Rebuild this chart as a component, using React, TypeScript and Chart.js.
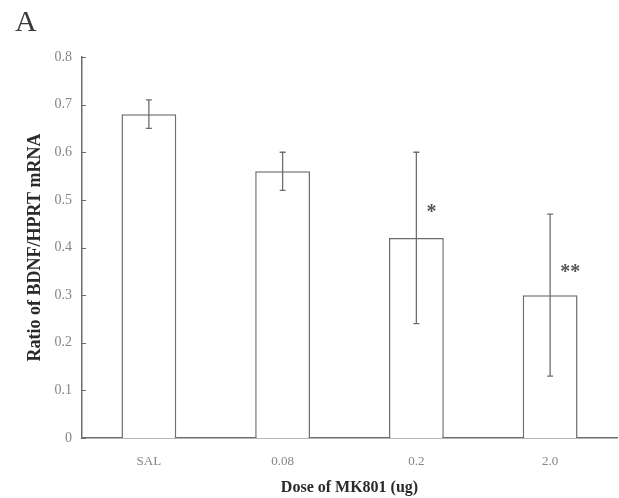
import { useEffect, useRef } from 'react';
import { Chart, registerables } from 'chart.js';

Chart.register(...registerables);

const categories = ['SAL', '0.08', '0.2', '2.0'];
const means = [0.68, 0.56, 0.42, 0.30];
const errLow = [0.65, 0.52, 0.24, 0.13];
const errHigh = [0.71, 0.60, 0.60, 0.47];
const sigMarks = ['', '', '*', '**'];
const sigLevel = [null, null, 0.483, 0.357];
const yTicks = [0, 0.1, 0.2, 0.3, 0.4, 0.5, 0.6, 0.7, 0.8];
const panelLabel = 'A';
const xTitle = 'Dose of MK801 (ug)';
const yTitle = 'Ratio of BDNF/HPRT mRNA';

const SERIF = '"Liberation Serif", "DejaVu Serif", serif';
const LINE = '#6e6e6e';

const extrasPlugin = {
  id: 'extras',
  afterDatasetsDraw(chart: any) {
    const { ctx } = chart;
    const meta = chart.getDatasetMeta(0);
    const ys = chart.scales.y;
    ctx.save();
    ctx.strokeStyle = LINE;
    ctx.lineWidth = 1.3;
    meta.data.forEach((bar: any, i: number) => {
      const x = bar.x;
      const yl = ys.getPixelForValue(errLow[i]);
      const yh = ys.getPixelForValue(errHigh[i]);
      ctx.beginPath();
      ctx.moveTo(x, yl);
      ctx.lineTo(x, yh);
      ctx.moveTo(x - 3, yl);
      ctx.lineTo(x + 3, yl);
      ctx.moveTo(x - 3, yh);
      ctx.lineTo(x + 3, yh);
      ctx.stroke();
      const mark = sigMarks[i];
      const lvl = sigLevel[i];
      if (mark && lvl !== null) {
        ctx.font = `bold 20px ${SERIF}`;
        ctx.fillStyle = '#555';
        ctx.textAlign = 'left';
        ctx.textBaseline = 'alphabetic';
        const m = ctx.measureText(mark);
        const cy = ys.getPixelForValue(lvl);
        const base = cy + (m.actualBoundingBoxAscent - m.actualBoundingBoxDescent) / 2;
        ctx.fillText(mark, x + 10, base);
      }
    });
    ctx.restore();
  },
  afterDraw(chart: any) {
    const { ctx } = chart;
    const ys = chart.scales.y;
    const left = chart.chartArea.left;
    ctx.save();
    ctx.strokeStyle = LINE;
    ctx.lineWidth = 1;
    yTicks.forEach((v) => {
      const y = Math.round(ys.getPixelForValue(v)) + 0.5;
      ctx.beginPath();
      ctx.moveTo(left, y);
      ctx.lineTo(left + 4, y);
      ctx.stroke();
    });
    ctx.font = `30px ${SERIF}`;
    ctx.fillStyle = '#3a3a3a';
    ctx.textAlign = 'left';
    ctx.textBaseline = 'alphabetic';
    ctx.fillText(panelLabel, 15, 31);
    ctx.restore();
  },
};

export default function App() {
  const ref = useRef<HTMLCanvasElement | null>(null);
  useEffect(() => {
    if (!ref.current) return;
    const chart = new Chart(ref.current, {
      type: 'bar',
      data: {
        labels: categories,
        datasets: [
          {
            data: means,
            backgroundColor: '#ffffff',
            borderColor: LINE,
            borderWidth: 1.5,
            barPercentage: 0.41,
            categoryPercentage: 1,
          },
        ],
      },
      options: {
        responsive: false,
        animation: false,
        devicePixelRatio: 1,
        layout: { padding: { top: 57, right: 2, left: 0, bottom: 0 } },
        plugins: { legend: { display: false }, tooltip: { enabled: false } },
        scales: {
          x: {
            grid: { display: false, drawTicks: false },
            border: { display: true, color: LINE, width: 1.5 },
            ticks: { color: '#858585', font: { family: SERIF, size: 13 }, padding: 16 },
            title: {
              display: true,
              text: xTitle,
              color: '#2a2a2a',
              font: { family: SERIF, size: 16, weight: 'bold' },
              padding: { top: 0, bottom: 1 },
            },
            afterFit: (s: any) => {
              s.height = 60;
            },
          },
          y: {
            min: 0,
            max: 0.8,
            grid: { display: false, drawTicks: false },
            border: { display: true, color: LINE, width: 1.5 },
            afterBuildTicks: (s: any) => {
              s.ticks = yTicks.map((v) => ({ value: v }));
            },
            ticks: {
              color: '#858585',
              font: { family: SERIF, size: 14 },
              padding: 10,
              callback: (v: any) => (Number(v) === 0 ? '0' : Number(v).toFixed(1)),
            },
            title: {
              display: true,
              text: yTitle,
              color: '#2a2a2a',
              font: { family: SERIF, size: 18, weight: 'bold' },
              padding: { top: 25, bottom: 0 },
            },
            afterFit: (s: any) => {
              s.width = 82;
            },
          },
        },
      },
      plugins: [extrasPlugin],
    });
    return () => chart.destroy();
  }, []);
  return (
    <div style={{ position: 'fixed', left: 0, top: 0, width: 619, height: 498, background: '#fff' }}>
      <canvas ref={ref} width={619} height={498} style={{ display: 'block' }} />
    </div>
  );
}
